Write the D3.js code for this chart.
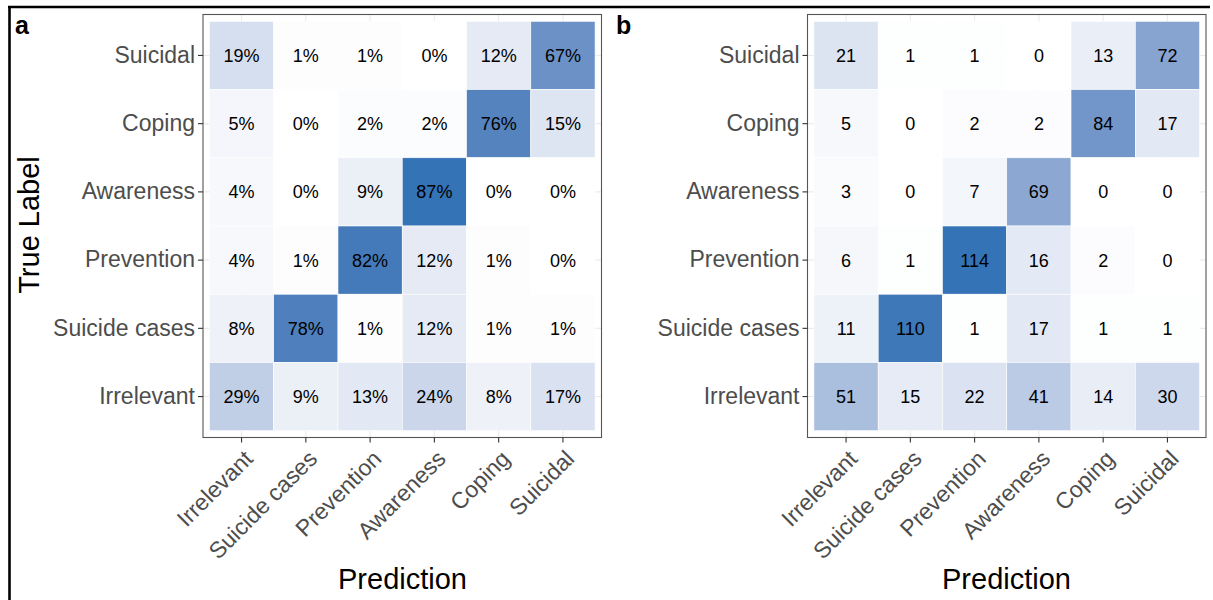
<!DOCTYPE html>
<html>
<head>
<meta charset="utf-8">
<script src="https://cdn.jsdelivr.net/npm/d3@7"></script>
<style>
  html, body { margin: 0; padding: 0; background: #fff; }
  svg { display: block; font-family: "Liberation Sans", Arial, Helvetica, sans-serif; }
</style>
</head>
<body>
<svg id="chart" width="1213" height="600"></svg>
<script>
// Predicted classes (x axis, left to right)
const predCategories = ["Irrelevant", "Suicide cases", "Prevention", "Awareness", "Coping", "Suicidal"];
// True classes (y axis, top to bottom)
const trueCategories = ["Suicidal", "Coping", "Awareness", "Prevention", "Suicide cases", "Irrelevant"];

// Panel a: row-normalised percentages (rows follow trueCategories, columns follow predCategories)
const percentSuicidal     = [19, 1, 1, 0, 12, 67];
const percentCoping       = [5, 0, 2, 2, 76, 15];
const percentAwareness    = [4, 0, 9, 87, 0, 0];
const percentPrevention   = [4, 1, 82, 12, 1, 0];
const percentSuicideCases = [8, 78, 1, 12, 1, 1];
const percentIrrelevant   = [29, 9, 13, 24, 8, 17];

// Panel b: raw counts
const countSuicidal     = [21, 1, 1, 0, 13, 72];
const countCoping       = [5, 0, 2, 2, 84, 17];
const countAwareness    = [3, 0, 7, 69, 0, 0];
const countPrevention   = [6, 1, 114, 16, 2, 0];
const countSuicideCases = [11, 110, 1, 17, 1, 1];
const countIrrelevant   = [51, 15, 22, 41, 14, 30];

const percentRows = [percentSuicidal, percentCoping, percentAwareness, percentPrevention, percentSuicideCases, percentIrrelevant];
const countRows = [countSuicidal, countCoping, countAwareness, countPrevention, countSuicideCases, countIrrelevant];

const panelTags = ["a", "b"];
const xTitle = "Prediction";
const yTitle = "True Label";

const svg = d3.select("#chart");

// outer frame (top and left black rules)
svg.append("line").attr("x1", 8).attr("x2", 1210).attr("y1", 7).attr("y2", 7)
  .attr("stroke", "#000").attr("stroke-width", 2.6);
svg.append("line").attr("x1", 9.5).attr("x2", 9.5).attr("y1", 6).attr("y2", 600)
  .attr("stroke", "#000").attr("stroke-width", 2.6);

function toCells(rows) {
  const cells = [];
  rows.forEach((r, i) => r.forEach((v, j) => cells.push({ t: trueCategories[i], p: predCategories[j], v })));
  return cells;
}

function drawPanel(opt) {
  const g = svg.append("g");
  const x = d3.scaleBand().domain(predCategories).range([opt.x0, opt.x1]).paddingInner(0).paddingOuter(0.1);
  const y = d3.scaleBand().domain(trueCategories).range([opt.y0, opt.y1]).paddingInner(0).paddingOuter(0.1);
  const cells = toCells(opt.rows);
  const vmax = d3.max(cells, d => d.v);
  const color = d3.scaleLinear().domain([0, vmax]).range(["#ffffff", "#3473b5"]).interpolate(d3.interpolateLab);

  // grid lines
  g.append("g").selectAll("line").data(predCategories).join("line")
    .attr("x1", d => x(d) + x.bandwidth() / 2).attr("x2", d => x(d) + x.bandwidth() / 2)
    .attr("y1", opt.y0).attr("y2", opt.y1)
    .attr("stroke", "#ebebeb").attr("stroke-width", 1.1);
  g.append("g").selectAll("line").data(trueCategories).join("line")
    .attr("y1", d => y(d) + y.bandwidth() / 2).attr("y2", d => y(d) + y.bandwidth() / 2)
    .attr("x1", opt.x0).attr("x2", opt.x1)
    .attr("stroke", "#ebebeb").attr("stroke-width", 1.1);

  // tiles
  g.append("g").selectAll("rect").data(cells).join("rect")
    .attr("x", d => x(d.p)).attr("y", d => y(d.t))
    .attr("width", x.bandwidth()).attr("height", y.bandwidth())
    .attr("fill", d => color(d.v))
    .attr("stroke", "#ffffff").attr("stroke-width", 0.6);

  // cell labels
  g.append("g").selectAll("text").data(cells).join("text")
    .attr("x", d => x(d.p) + x.bandwidth() / 2)
    .attr("y", d => y(d.t) + y.bandwidth() / 2)
    .attr("dy", "0.36em")
    .attr("text-anchor", "middle")
    .attr("font-size", 18).attr("fill", "#000")
    .text(d => d.v + opt.suffix);

  // panel border
  g.append("rect").attr("x", opt.x0).attr("y", opt.y0)
    .attr("width", opt.x1 - opt.x0).attr("height", opt.y1 - opt.y0)
    .attr("fill", "none").attr("stroke", "#555").attr("stroke-width", 1.1);

  // y axis
  const yAxis = d3.axisLeft(y).tickSize(5).tickPadding(3);
  const ya = g.append("g").attr("transform", `translate(${opt.x0},0)`).call(yAxis);
  ya.select(".domain").remove();
  ya.selectAll(".tick line").attr("stroke", "#333").attr("stroke-width", 1.1);
  ya.selectAll(".tick text").attr("font-size", 23).attr("fill", "#4d4d4d")
    .attr("font-family", "Liberation Sans, Arial, sans-serif");

  // x axis
  const xAxis = d3.axisBottom(x).tickSize(5).tickPadding(0);
  const xa = g.append("g").attr("transform", `translate(0,${opt.y1})`).call(xAxis);
  xa.select(".domain").remove();
  xa.selectAll(".tick line").attr("stroke", "#333").attr("stroke-width", 1.1);
  xa.selectAll(".tick text")
    .attr("font-size", 23).attr("fill", "#4d4d4d")
    .attr("font-family", "Liberation Sans, Arial, sans-serif")
    .attr("text-anchor", "end")
    .attr("x", 0).attr("y", 0).attr("dy", "0.72em")
    .attr("transform", "translate(1,11) rotate(-45)");

  // axis title
  g.append("text").attr("x", opt.titleX).attr("y", 589)
    .attr("text-anchor", "middle").attr("font-size", 29).attr("fill", "#000")
    .text(xTitle);

  // panel tag
  g.append("text").attr("x", opt.tagX).attr("y", 34)
    .attr("font-size", 25).attr("font-weight", "bold").attr("fill", "#000")
    .text(opt.tag);
}

drawPanel({ rows: percentRows, suffix: "%", x0: 203, x1: 601.5, y0: 14.5, y1: 437.5, titleX: 402.5, tag: panelTags[0], tagX: 15 });
drawPanel({ rows: countRows, suffix: "", x0: 807.5, x1: 1206, y0: 14.5, y1: 437.5, titleX: 1006.5, tag: panelTags[1], tagX: 616 });

// y title (only on panel a)
svg.append("text").attr("transform", "translate(39,225) rotate(-90)")
  .attr("text-anchor", "middle").attr("font-size", 29).attr("fill", "#000")
  .text(yTitle);
</script>
</body>
</html>
